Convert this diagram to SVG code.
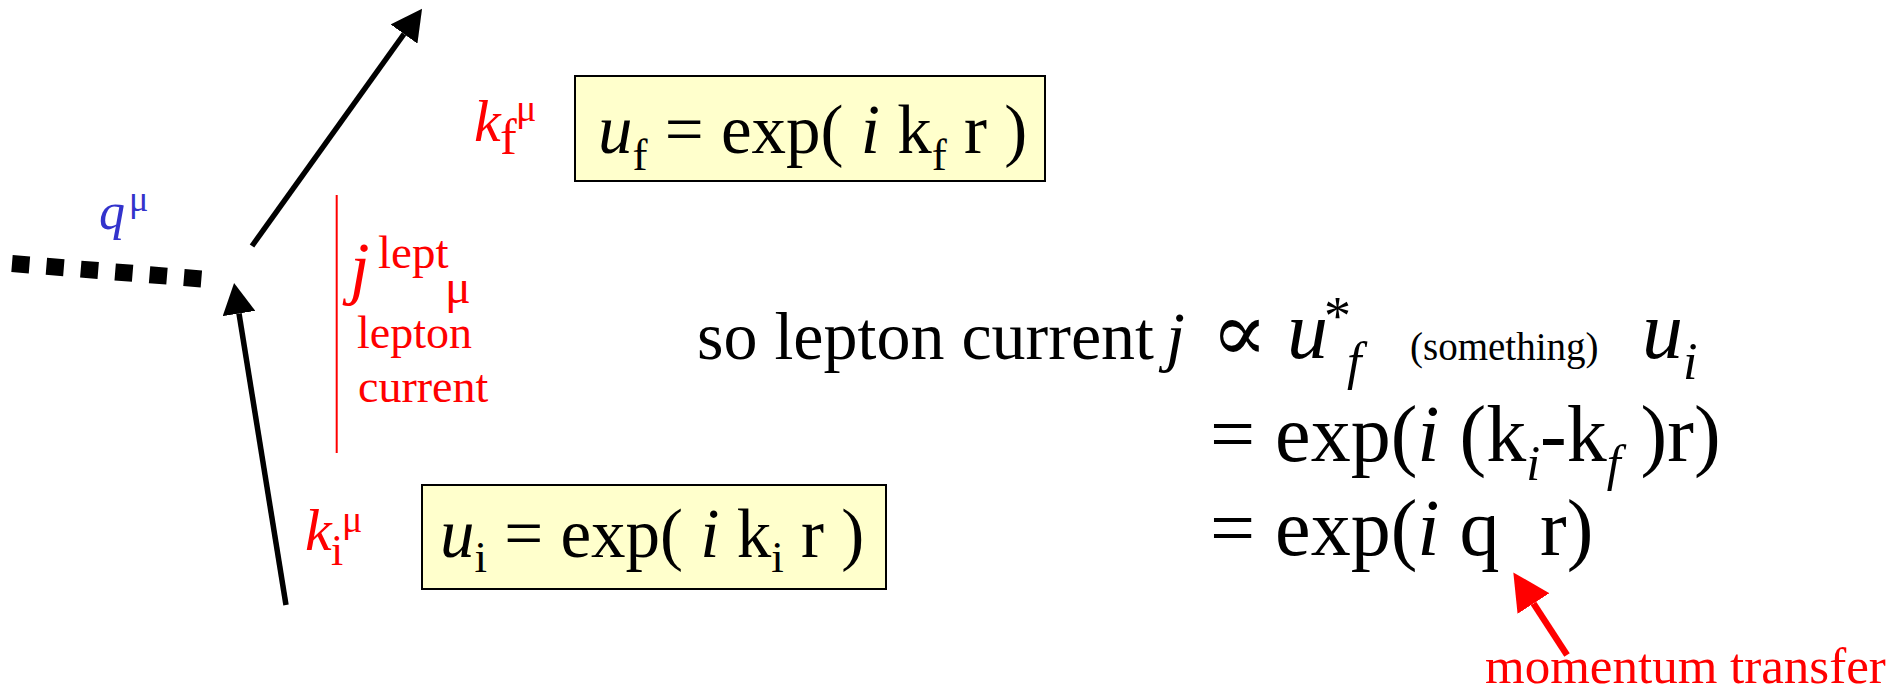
<svg xmlns="http://www.w3.org/2000/svg" width="1902" height="694" viewBox="0 0 1902 694">
<style>
text { font-family: "Liberation Serif", "Times New Roman", "DejaVu Serif", serif; fill: #000; }
.it { font-style: italic; }
.red { fill: #ff0000; }
.blue { fill: #3333cc; }
.box { fill: #ffffcc; stroke: #000; stroke-width: 2; }
.blk { stroke: #000; stroke-width: 5.5; fill: none; }
</style>
<defs>
<marker id="ah" markerUnits="userSpaceOnUse" markerWidth="31" markerHeight="33" viewBox="0 0 31 33" refX="0" refY="16.5" orient="auto"><path d="M0,0 L31,16.5 L0,33 Z" fill="#000"/></marker>
<marker id="ahr" markerUnits="userSpaceOnUse" markerWidth="37" markerHeight="38" viewBox="0 0 37 38" refX="0" refY="19" orient="auto"><path d="M0,0 L37,19 L0,38 Z" fill="#ff0000"/></marker>
</defs>
<rect x="0" y="0" width="1902" height="694" fill="#ffffff"/>

<g id="connectors">
<line x1="252" y1="246" x2="404" y2="34" class="blk" marker-end="url(#ah)"/>
<line x1="286" y1="605" x2="239" y2="313.5" class="blk" marker-end="url(#ah)"/>
<line x1="12" y1="263.5" x2="202" y2="279" stroke="#000" stroke-width="17" stroke-dasharray="17.5 17"/>
<line x1="336.7" y1="195" x2="336.7" y2="453" stroke="#ff0000" stroke-width="2"/>
<line x1="1567" y1="655" x2="1533.5" y2="603.5" stroke="#ff0000" stroke-width="6.5" marker-end="url(#ahr)"/>
</g>

<g id="label-q">
<text x="99" y="229" class="it blue" font-size="52">q</text>
<text x="129" y="211" class="blue" font-size="36">μ</text>
</g>

<g id="label-kf">
<text x="474" y="141" class="it red" font-size="60">k</text>
<text x="500" y="154" class="red" font-size="50">f</text>
<text x="516" y="121" class="red" font-size="38">μ</text>
</g>

<g id="label-ki">
<text x="305" y="550" class="it red" font-size="60">k</text>
<text x="331" y="565" class="red" font-size="44">i</text>
<text x="342" y="532" class="red" font-size="38">μ</text>
</g>

<g id="label-j">
<text x="350" y="291" class="it red" font-size="70">j</text>
<text x="378" y="268" class="red" font-size="47">lept</text>
<text x="445" y="303" class="red" font-size="48">μ</text>
<text x="357" y="348" class="red" font-size="46">lepton</text>
<text x="358" y="402" class="red" font-size="46">current</text>
</g>

<g id="box-uf">
<rect x="575" y="76" width="470" height="105" class="box"/>
<text x="598" y="153" font-size="69"><tspan class="it">u</tspan><tspan font-size="45" dy="17">f</tspan><tspan dy="-17"> = exp( </tspan><tspan class="it">i</tspan><tspan> k</tspan><tspan font-size="45" dy="17">f</tspan><tspan dy="-17"> r )</tspan></text>
</g>

<g id="box-ui">
<rect x="422" y="485" width="464" height="104" class="box"/>
<text x="440" y="557" font-size="69"><tspan class="it">u</tspan><tspan font-size="45" dy="15">i</tspan><tspan dy="-15"> = exp( </tspan><tspan class="it">i</tspan><tspan> k</tspan><tspan font-size="45" dy="15">i</tspan><tspan dy="-15"> r )</tspan></text>
</g>

<g id="equation-1">
<text x="697" y="359" font-size="68">so lepton current</text>
<text x="1166" y="359" class="it" font-size="68">j</text>
<text x="1211" y="361" font-size="84">∝</text>
<text x="1287" y="358" class="it" font-size="82">u</text>
<text x="1324" y="334" font-size="54">*</text>
<text x="1347" y="379" class="it" font-size="52">f</text>
<text x="1410" y="360" font-size="39">(something)</text>
<text x="1642" y="358" class="it" font-size="82">u</text>
<text x="1683" y="379" class="it" font-size="52">i</text>
</g>

<g id="equation-2">
<text x="1210" y="461" font-size="80">= exp(<tspan class="it">i</tspan> (k<tspan class="it" font-size="50" dy="19">i</tspan><tspan dy="-19">-k</tspan><tspan class="it" font-size="50" dy="19">f</tspan><tspan dy="-19"> )r)</tspan></text>
</g>

<g id="equation-3">
<text x="1210" y="555" font-size="80">= exp(<tspan class="it">i</tspan> q<tspan x="1540">r)</tspan></text>
</g>

<g id="label-momentum">
<text x="1485" y="683" class="red" font-size="51">momentum transfer</text>
</g>
</svg>
